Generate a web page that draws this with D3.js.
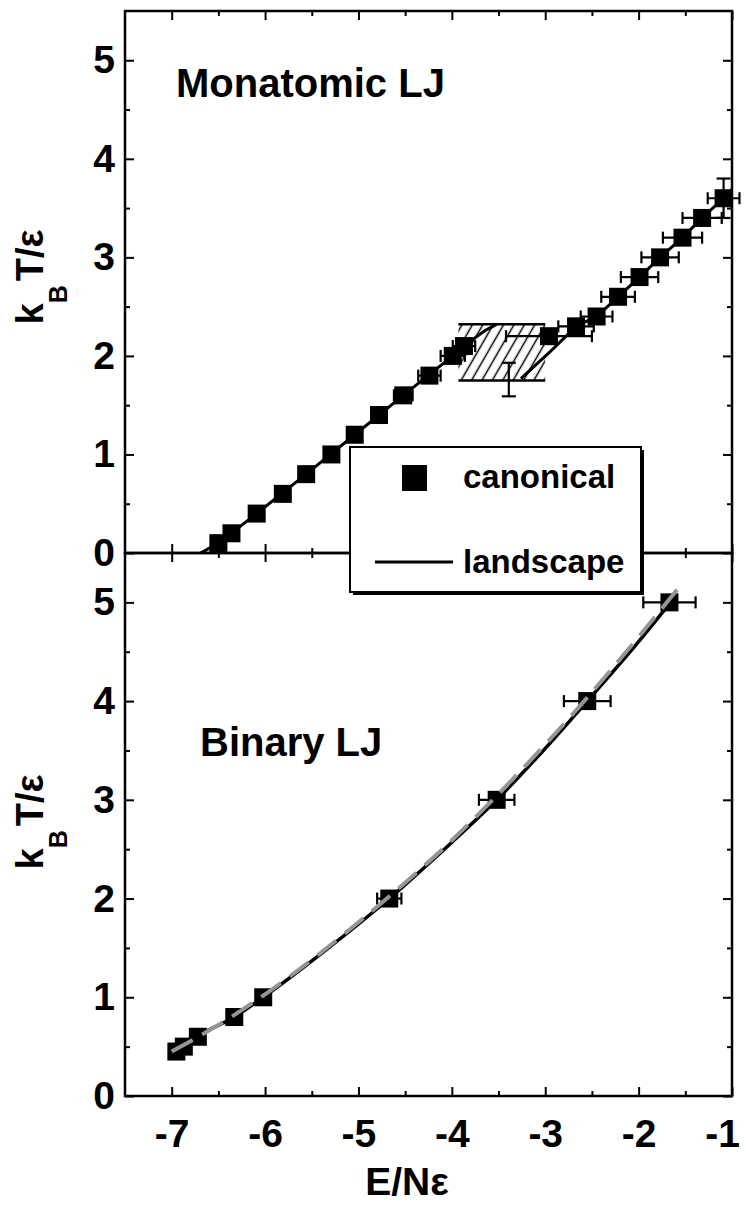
<!DOCTYPE html>
<html>
<head>
<meta charset="utf-8">
<script src="https://cdn.jsdelivr.net/npm/d3@7"></script>
<style>
  body { margin: 0; background: #fff; }
  svg text { font-family: "Liberation Sans", Arial, Helvetica, sans-serif; font-weight: bold; fill: #000; }
</style>
</head>
<body>
<svg id="chart" width="746" height="1210"></svg>
<script>
// ---- axis ticks ----
const xTicks = [-7, -6, -5, -4, -3, -2, -1];
const xMinorTicks = [-7.5, -6.5, -5.5, -4.5, -3.5, -2.5, -1.5];
const yTicks = [0, 1, 2, 3, 4, 5];
const yMinorTicks = [0.5, 1.5, 2.5, 3.5, 4.5];

// ---- monatomic LJ: canonical simulations (E/N, T, x error, T error) ----
const monoCanonE = [-6.50, -6.36, -6.09, -5.81, -5.56, -5.29, -5.04, -4.78, -4.52, -4.24, -3.99, -3.87,
                    -2.96, -2.67, -2.45, -2.22, -1.99, -1.77, -1.53, -1.32, -1.09];
const monoCanonT = [0.1, 0.2, 0.4, 0.6, 0.8, 1.0, 1.2, 1.4, 1.6, 1.8, 2.0, 2.1,
                    2.2, 2.3, 2.4, 2.6, 2.8, 3.0, 3.2, 3.4, 3.6];
const monoCanonErr = [0.05, 0.05, 0.05, 0.06, 0.06, 0.07, 0.07, 0.08, 0.10, 0.12, 0.13, 0.12,
                      0.46, 0.19, 0.17, 0.18, 0.20, 0.20, 0.21, 0.21, 0.17];
const monoCanonTErr = [0, 0, 0, 0, 0, 0, 0, 0, 0, 0, 0, 0,
                       0, 0, 0, 0, 0, 0, 0, 0, 0.2];

// ---- monatomic LJ: landscape caloric curve, two branches ----
const monoLandLeftE = [-6.69, -6.50, -6.09, -5.56, -5.04, -4.52, -3.99, -3.80, -3.64, -3.52];
const monoLandLeftT = [0.0, 0.1, 0.4, 0.8, 1.2, 1.6, 2.0, 2.15, 2.26, 2.32];
const monoLandRightE = [-3.26, -2.95, -2.67, -2.45, -2.22, -1.99, -1.77, -1.53, -1.32, -1.09, -1.00];
const monoLandRightT = [1.77, 2.04, 2.30, 2.40, 2.60, 2.80, 3.00, 3.20, 3.40, 3.60, 3.69];

// ---- monatomic LJ: coexistence band and its temperature spread ----
const monoBandE = [-3.93, -3.00];
const monoBandT = [1.75, 2.32];
const monoSpreadE = [-3.39];
const monoSpreadT = [1.76];
const monoSpreadErr = [0.17];

// ---- binary LJ: canonical simulations ----
const binCanonE = [-6.95, -6.87, -6.72, -6.33, -6.02, -4.67, -3.52, -2.55, -1.67];
const binCanonT = [0.45, 0.50, 0.60, 0.80, 1.00, 2.00, 3.00, 4.00, 5.00];
const binCanonErr = [0.05, 0.05, 0.05, 0.06, 0.06, 0.13, 0.19, 0.25, 0.28];

// ---- binary LJ: landscape curve (solid) and reference curve (grey dashed) ----
const binLandE = [-7.00, -6.85, -6.72, -6.33, -6.02, -5.32, -4.67, -4.08, -3.52, -3.02, -2.55, -2.09, -1.64];
const binLandT = [0.44, 0.50, 0.60, 0.80, 1.00, 1.50, 2.00, 2.50, 3.00, 3.50, 4.00, 4.50, 5.02];
const binRefE = [-7.00, -6.50, -6.00, -5.50, -5.00, -4.50, -4.00, -3.50, -3.00, -2.50, -2.00, -1.57];
const binRefT = [0.45, 0.72, 1.03, 1.38, 1.76, 2.16, 2.59, 3.06, 3.56, 4.09, 4.65, 5.15];

// ---- legend entries ----
const legendLabels = ["canonical", "landscape"];

// ---- layout ----
const svg = d3.select("#chart");
const left = 125, right = 732;
const x = d3.scaleLinear().domain([-7.5, -1]).range([left, right]);
const yTop = d3.scaleLinear().domain([0, 5.5]).range([553, 11]);
const yBot = d3.scaleLinear().domain([0, 5.5]).range([1096, 553]);

const defs = svg.append("defs");
defs.append("pattern")
  .attr("id", "hatch")
  .attr("patternUnits", "userSpaceOnUse")
  .attr("width", 9).attr("height", 9)
  .attr("patternTransform", "rotate(30)")
  .append("line")
  .attr("x1", 4.5).attr("y1", 0).attr("x2", 4.5).attr("y2", 9)
  .attr("stroke", "#000").attr("stroke-width", 1.5);

const zip = (a, b) => a.map((v, i) => [v, b[i]]);

function styleAxis(g, fontSize) {
  g.select(".domain").remove();
  g.selectAll(".tick line").attr("stroke", "#000").attr("stroke-width", 2);
  g.selectAll(".tick text").style("font-size", fontSize + "px").attr("fill", "#000");
}

function drawFrame(y, withXLabels) {
  const [yb, yt] = y.range();
  // left
  svg.append("g").attr("transform", `translate(${left},0)`)
    .call(d3.axisLeft(y).tickValues(yTicks).tickSizeInner(-9).tickSizeOuter(0).tickPadding(10).tickFormat(String))
    .call(g => styleAxis(g, 39));
  svg.append("g").attr("transform", `translate(${left},0)`)
    .call(d3.axisLeft(y).tickValues(yMinorTicks).tickSizeInner(-5).tickSizeOuter(0).tickFormat(""))
    .call(g => styleAxis(g, 39));
  // right
  svg.append("g").attr("transform", `translate(${right},0)`)
    .call(d3.axisRight(y).tickValues(yTicks).tickSizeInner(-9).tickSizeOuter(0).tickFormat(""))
    .call(g => styleAxis(g, 39));
  svg.append("g").attr("transform", `translate(${right},0)`)
    .call(d3.axisRight(y).tickValues(yMinorTicks).tickSizeInner(-5).tickSizeOuter(0).tickFormat(""))
    .call(g => styleAxis(g, 39));
  // top
  svg.append("g").attr("transform", `translate(0,${yt})`)
    .call(d3.axisTop(x).tickValues(xTicks).tickSizeInner(-9).tickSizeOuter(0).tickFormat(""))
    .call(g => styleAxis(g, 39));
  svg.append("g").attr("transform", `translate(0,${yt})`)
    .call(d3.axisTop(x).tickValues(xMinorTicks.filter(v => v > -7.5)).tickSizeInner(-5).tickSizeOuter(0).tickFormat(""))
    .call(g => styleAxis(g, 39));
  // bottom
  const bx = svg.append("g").attr("transform", `translate(0,${yb})`)
    .call(d3.axisBottom(x).tickValues(xTicks).tickSizeInner(-9).tickSizeOuter(0).tickPadding(23)
      .tickFormat(withXLabels ? String : ""))
    .call(g => styleAxis(g, 39));
  // keep the rightmost label inside the page
  bx.selectAll(".tick text").filter(d => d === -1).attr("dx", -10);
  svg.append("g").attr("transform", `translate(0,${yb})`)
    .call(d3.axisBottom(x).tickValues(xMinorTicks.filter(v => v > -7.5)).tickSizeInner(-5).tickSizeOuter(0).tickFormat(""))
    .call(g => styleAxis(g, 39));
  // frame
  svg.append("rect")
    .attr("x", left).attr("y", yt)
    .attr("width", right - left).attr("height", yb - yt)
    .attr("fill", "none").attr("stroke", "#000").attr("stroke-width", 2.5);
}

function drawXErrors(g, y, E, T, err) {
  const cap = 6;
  E.forEach((e, i) => {
    if (!err[i]) return;
    const x0 = x(e - err[i]), x1 = x(e + err[i]), yy = y(T[i]);
    g.append("line").attr("x1", x0).attr("x2", x1).attr("y1", yy).attr("y2", yy)
      .attr("stroke", "#000").attr("stroke-width", 2.2);
    [x0, x1].forEach(xc => g.append("line").attr("x1", xc).attr("x2", xc)
      .attr("y1", yy - cap).attr("y2", yy + cap).attr("stroke", "#000").attr("stroke-width", 2.2));
  });
}

function drawYErrors(g, y, E, T, err) {
  const cap = 7;
  E.forEach((e, i) => {
    if (!err[i]) return;
    const xx = x(e), y0 = y(T[i] - err[i]), y1 = y(T[i] + err[i]);
    g.append("line").attr("x1", xx).attr("x2", xx).attr("y1", y0).attr("y2", y1)
      .attr("stroke", "#000").attr("stroke-width", 2.2);
    [y0, y1].forEach(yc => g.append("line").attr("x1", xx - cap).attr("x2", xx + cap)
      .attr("y1", yc).attr("y2", yc).attr("stroke", "#000").attr("stroke-width", 2.2));
  });
}

function drawSquares(g, y, E, T, size) {
  g.selectAll(null).data(zip(E, T)).enter().append("rect")
    .attr("x", d => x(d[0]) - size / 2).attr("y", d => y(d[1]) - size / 2)
    .attr("width", size).attr("height", size).attr("fill", "#000");
}

// ================= top panel: monatomic LJ =================
const monoG = svg.append("g");
const lineTop = d3.line().x(d => x(d[0])).y(d => yTop(d[1]));

// coexistence band
monoG.append("rect")
  .attr("x", x(monoBandE[0])).attr("y", yTop(monoBandT[1]))
  .attr("width", x(monoBandE[1]) - x(monoBandE[0]))
  .attr("height", yTop(monoBandT[0]) - yTop(monoBandT[1]))
  .attr("fill", "url(#hatch)");
monoBandT.forEach(t => monoG.append("line")
  .attr("x1", x(monoBandE[0])).attr("x2", x(monoBandE[1]))
  .attr("y1", yTop(t)).attr("y2", yTop(t))
  .attr("stroke", "#000").attr("stroke-width", 2.5));

monoG.append("path").attr("d", lineTop(zip(monoLandLeftE, monoLandLeftT)))
  .attr("fill", "none").attr("stroke", "#000").attr("stroke-width", 3);
monoG.append("path").attr("d", lineTop(zip(monoLandRightE, monoLandRightT)))
  .attr("fill", "none").attr("stroke", "#000").attr("stroke-width", 3);

drawXErrors(monoG, yTop, monoCanonE, monoCanonT, monoCanonErr);
drawYErrors(monoG, yTop, monoCanonE, monoCanonT, monoCanonTErr);
drawYErrors(monoG, yTop, monoSpreadE, monoSpreadT, monoSpreadErr);
drawSquares(monoG, yTop, monoCanonE, monoCanonT, 18);

// ================= bottom panel: binary LJ =================
const binG = svg.append("g");
const lineBot = d3.line().curve(d3.curveMonotoneX).x(d => x(d[0])).y(d => yBot(d[1]));

binG.append("path").attr("d", lineBot(zip(binLandE, binLandT)))
  .attr("fill", "none").attr("stroke", "#000").attr("stroke-width", 3.5);
drawXErrors(binG, yBot, binCanonE, binCanonT, binCanonErr);
drawSquares(binG, yBot, binCanonE, binCanonT, 18);
binG.append("path").attr("d", lineBot(zip(binRefE, binRefT)))
  .attr("fill", "none").attr("stroke", "#959595").attr("stroke-width", 4)
  .attr("stroke-dasharray", "24,11");

// frames and axes drawn over the data
drawFrame(yTop, false);
drawFrame(yBot, true);

// ================= panel titles =================
svg.append("text").attr("x", 176).attr("y", 97).style("font-size", "40px").text("Monatomic LJ");
svg.append("text").attr("x", 200).attr("y", 756).style("font-size", "40px").text("Binary LJ");

// ================= axis titles =================
function yTitle(cy) {
  const t = svg.append("text")
    .attr("transform", `translate(43,${cy}) rotate(-90)`)
    .attr("text-anchor", "middle");
  t.append("tspan").style("font-size", "38px").text("k");
  t.append("tspan").style("font-size", "25px").attr("dy", 24).text("B");
  t.append("tspan").style("font-size", "38px").attr("dy", -24).attr("dx", 4).text("T/ε");
}
yTitle(277);
yTitle(822);

svg.append("text").attr("x", 407).attr("y", 1195).attr("text-anchor", "middle")
  .style("font-size", "39px").text("E/Nε");

// ================= legend =================
const lg = svg.append("g");
lg.append("rect").attr("x", 353).attr("y", 450).attr("width", 291).attr("height", 145).attr("fill", "#000");
lg.append("rect").attr("x", 350).attr("y", 447).attr("width", 291).attr("height", 145)
  .attr("fill", "#fff").attr("stroke", "#000").attr("stroke-width", 2);
lg.append("rect").attr("x", 402).attr("y", 465).attr("width", 25).attr("height", 26).attr("fill", "#000");
lg.append("text").attr("x", 463).attr("y", 488).style("font-size", "33px").text(legendLabels[0]);
lg.append("line").attr("x1", 375).attr("x2", 453).attr("y1", 562).attr("y2", 562)
  .attr("stroke", "#000").attr("stroke-width", 3);
lg.append("text").attr("x", 463).attr("y", 573).style("font-size", "33px").text(legendLabels[1]);
</script>
</body>
</html>
